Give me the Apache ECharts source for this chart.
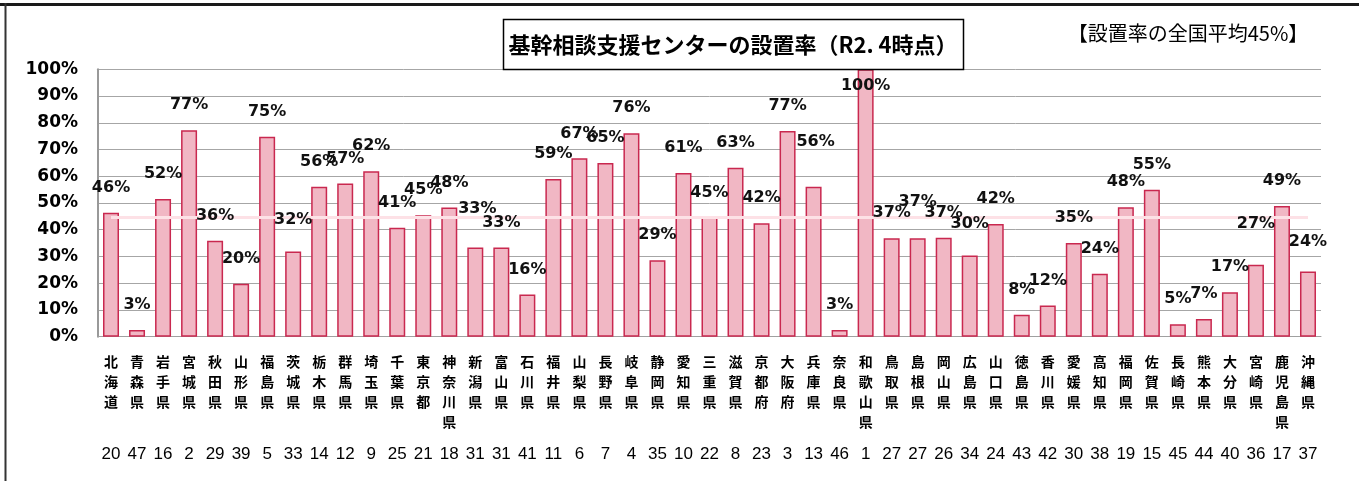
<!DOCTYPE html>
<html>
<head>
<meta charset="utf-8">
<script src="https://cdn.jsdelivr.net/npm/echarts@6/dist/echarts.min.js"></script>
<style>
html,body{margin:0;padding:0;background:#fff;}
#chart{width:1359px;height:481px;}
</style>
</head>
<body>
<div id="chart"></div>
<script>
// ---- data ----
const prefectures = ['北海道','青森県','岩手県','宮城県','秋田県','山形県','福島県','茨城県','栃木県','群馬県','埼玉県','千葉県','東京都','神奈川県','新潟県','富山県','石川県','福井県','山梨県','長野県','岐阜県','静岡県','愛知県','三重県','滋賀県','京都府','大阪府','兵庫県','奈良県','和歌山県','鳥取県','島根県','岡山県','広島県','山口県','徳島県','香川県','愛媛県','高知県','福岡県','佐賀県','長崎県','熊本県','大分県','宮崎県','鹿児島県','沖縄県'];
const rates = [46.4,2.5,51.5,77.2,35.9,19.8,74.8,31.9,56.1,57.3,61.9,40.7,45.4,48.3,33.4,33.4,15.8,59.0,66.7,65.0,76.1,28.6,61.2,44.6,63.2,42.4,76.9,56.1,2.5,100,36.8,36.8,37.0,30.4,42.1,8.2,11.7,35.0,23.5,48.4,55.0,4.7,6.6,16.6,26.9,48.9,24.4];
const ranks = ['20','47','16','2','29','39','5','33','14','12','9','25','21','18','31','31','41','11','6','7','4','35','10','22','8','23','3','13','46','1','27','27','26','34','24','43','42','30','38','19','15','45','44','40','36','17','37'];
const nationalAverage = 44.6;
const yTicks = [0,10,20,30,40,50,60,70,80,90,100];
const titleText = '基幹相談支援センターの設置率（R2. 4時点）';
const noteText = '【設置率の全国平均45%】';

// ---- layout (label nudges, not data) ----
const labelShift = {7:[0,-7],14:[2,-14],27:[2,-20],29:[0,41.5],31:[0,-11],33:[0,-7],44:[0,-16],46:[0,-4.5]};

const chart = echarts.init(document.getElementById('chart'), null, {renderer:'canvas'});

const labelData = rates.map((v,i)=>{
  const s = labelShift[i];
  return s ? {value:v, label:{offset:s}} : {value:v};
});

const valueFont = 'DejaVu Sans';

const option = {
  animation:false,
  backgroundColor:'#fff',
  grid:{left:98, right:38, top:69.3, height:267.4, containLabel:false},
  xAxis:[{
    type:'category',
    data:prefectures,
    axisLine:{show:true, lineStyle:{color:'#a0a0a0', width:1}},
    axisTick:{show:false},
    axisLabel:{
      interval:0, margin:15,
      fontFamily:'Noto Sans CJK JP', fontWeight:'bold', fontSize:14,
      lineHeight:20, color:'#000',
      formatter:(v)=>v.split('').join('\n'),
      verticalAlign:'top'
    }
  },{
    type:'category',
    position:'bottom',
    data:prefectures,
    axisLine:{show:false}, axisTick:{show:false},
    axisLabel:{
      interval:0, margin:109,
      fontFamily:'Liberation Sans, Arial, sans-serif', fontSize:17,
      color:'#000',
      formatter:(v,i)=>ranks[i]
    }
  }],
  yAxis:{
    type:'value', min:yTicks[0], max:yTicks[yTicks.length-1], interval:10,
    axisLine:{show:true, lineStyle:{color:'#999', width:2}},
    axisTick:{show:false},
    splitLine:{lineStyle:{color:'#a6a6a6', width:1}},
    axisLabel:{
      margin:20, formatter:'{value}%', color:'#000',
      fontFamily:valueFont, fontWeight:'bold', fontSize:17
    }
  },
  series:[{
    type:'bar',
    data:rates,
    barWidth:16,
    itemStyle:{color:'#f1b7c4', borderColor:'#c9284f', borderWidth:1.5},
    z:2
  },{
    type:'line',
    data:prefectures.map(()=>nationalAverage),
    symbol:'none',
    lineStyle:{color:'#fde1e6', width:3},
    z:3, silent:true
  },{
    type:'bar',
    data:labelData,
    barWidth:16,
    barGap:'-100%',
    itemStyle:{color:'rgba(0,0,0,0)', borderWidth:0},
    label:{
      show:true, position:'top', distance:17,
      fontFamily:valueFont, fontWeight:'bold', fontSize:16,
      lineHeight:16, color:'#111',
      formatter:(p)=>Math.round(p.value)+'%'
    },
    z:5, silent:true
  }],
  graphic:[
    {type:'rect', shape:{x:0,y:3,width:1359,height:3}, style:{fill:'#1a1a1a'}, z:100},
    {type:'rect', shape:{x:4.5,y:3,width:2,height:478}, style:{fill:'#333'}, z:100},
    {type:'rect', shape:{x:503.5,y:19.5,width:460,height:50}, style:{fill:'#fff', stroke:'#000', lineWidth:1.5}, z:100},
    {type:'text', x:733, y:44.5, style:{text:titleText, fill:'#000', font:'bold 22px "Noto Sans CJK JP", sans-serif', textAlign:'center', textVerticalAlign:'middle'}, z:101},
    {type:'text', x:1188, y:33, style:{text:noteText, fill:'#000', font:'20px "Noto Sans CJK JP", sans-serif', textAlign:'center', textVerticalAlign:'middle'}, z:101}
  ]
};
chart.setOption(option);
</script>
</body>
</html>
